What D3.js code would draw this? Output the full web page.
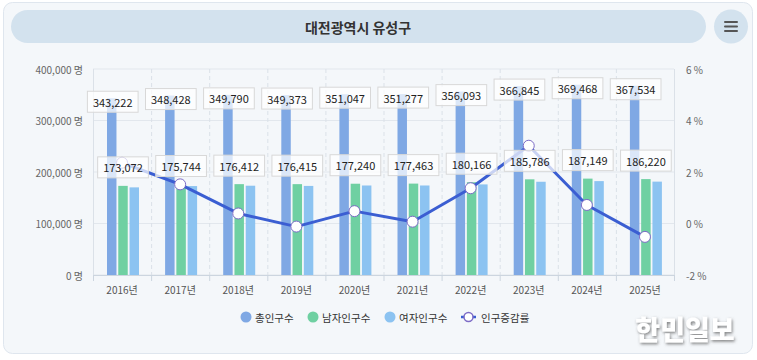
<!DOCTYPE html>
<html><head><meta charset="utf-8">
<script src="https://cdn.jsdelivr.net/npm/d3@7"></script>
<style>
html,body{margin:0;padding:0;background:#fff;}
svg{display:block;font-family:"Noto Sans CJK KR","Noto Sans",sans-serif;}
</style></head>
<body>
<svg id="chart" width="757" height="360"></svg>
<script>
const title = "대전광역시 유성구";
const years = ["2016년","2017년","2018년","2019년","2020년","2021년","2022년","2023년","2024년","2025년"];
const total = [343222, 348428, 349790, 349373, 351047, 351277, 356093, 366845, 369468, 367534];
const male = [173072, 175744, 176412, 176415, 177240, 177463, 180166, 185786, 187149, 186220];
const female = [170150, 172684, 173378, 172958, 173807, 173814, 175927, 181059, 182319, 181314];
const rate = [2.36, 1.52, 0.39, -0.12, 0.48, 0.07, 1.37, 3.02, 0.72, -0.52];
const leftTicks = [0, 100000, 200000, 300000, 400000];
const rightTicks = [-2, 0, 2, 4, 6];
const seriesNames = ["총인구수","남자인구수","여자인구수","인구증감률"];
const colors = {total:"#7fa8e4", male:"#6fd0a2", female:"#8cc3f1", line:"#3b5ed2", marker:"#7d6cc6"};

const svg = d3.select("#chart");
const fmt = d3.format(",");

// defs
const defs = svg.append("defs");
const f = defs.append("filter").attr("id","wm").attr("x","-20%").attr("y","-30%").attr("width","140%").attr("height","160%");
f.append("feDropShadow").attr("dx",1).attr("dy",1.5).attr("stdDeviation",1.6).attr("flood-color","#555").attr("flood-opacity",0.75);

// card
svg.append("rect").attr("x",3.5).attr("y",2.5).attr("width",749).attr("height",351).attr("rx",9)
  .attr("fill","#f4f7fa").attr("stroke","#dfe6ee");
// title pill
svg.append("rect").attr("x",11).attr("y",10).attr("width",695).attr("height",33).attr("rx",16.5).attr("fill","#d3e2ee");
svg.append("text").attr("x",358).attr("y",27).attr("text-anchor","middle").attr("dominant-baseline","central")
  .attr("font-size",14).attr("font-weight",700).attr("fill","#333").text(title);
// menu button
svg.append("ellipse").attr("cx",731).attr("cy",26.5).attr("rx",17).attr("ry",17).attr("fill","#d3e2ee");
[-4.5,0,4.5].forEach(d=>svg.append("line").attr("x1",725).attr("x2",737).attr("y1",26.5+d).attr("y2",26.5+d)
  .attr("stroke","#555").attr("stroke-width",2).attr("stroke-linecap","round"));

// scales
const pL = 93, pR = 674, pT = 69, pB = 275;
const x = d3.scaleBand().domain(years).range([pL,pR]).padding(0);
const step = x.bandwidth();
const x1 = d3.scaleBand().domain(["total","male","female"]).range([14,46]).paddingInner(0.16);
const yL = d3.scaleLinear().domain([0,400000]).range([pB,pT]);
const yR = d3.scaleLinear().domain([-2,6]).range([pB,pT]);

// grid
const g = svg.append("g");
g.selectAll(".hg").data(leftTicks).join("line")
  .attr("x1",pL).attr("x2",pR).attr("y1",d=>yL(d)).attr("y2",d=>yL(d))
  .attr("stroke","#e2e7ed").attr("stroke-width",1);
const bounds = years.map(d=>x(d)).concat([pR]);
g.selectAll(".vg").data(bounds).join("line")
  .attr("x1",d=>d+0.5).attr("x2",d=>d+0.5).attr("y1",pT).attr("y2",pB)
  .attr("stroke","#dbe1e8").attr("stroke-dasharray",(d,i)=> (i===0||i===bounds.length-1)?null:"4,3");
g.append("line").attr("x1",pL).attr("x2",pR).attr("y1",pB+0.5).attr("y2",pB+0.5).attr("stroke","#ccd5df");
g.selectAll(".xt").data(bounds).join("line")
  .attr("x1",d=>d+0.5).attr("x2",d=>d+0.5).attr("y1",pB).attr("y2",pB+6).attr("stroke","#ccd5df");

// axis labels
svg.append("g").selectAll("text").data(leftTicks).join("text")
  .attr("x",83).attr("y",d=>yL(d)).attr("dominant-baseline","central").attr("text-anchor","end")
  .attr("font-size",10).attr("fill","#666").text(d=>fmt(d)+" 명");
svg.append("g").selectAll("text").data(rightTicks).join("text")
  .attr("x",686).attr("y",d=>yR(d)).attr("dominant-baseline","central").attr("text-anchor","start")
  .attr("font-size",10).attr("fill","#666").text(d=>d+" %");
svg.append("g").selectAll("text").data(years).join("text")
  .attr("x",d=>x(d)+step/2).attr("y",289).attr("dominant-baseline","central").attr("text-anchor","middle")
  .attr("font-size",10).attr("fill","#555").text(d=>d);

// bars
const rows = years.map((y,i)=>({year:y,total:total[i],male:male[i],female:female[i],rate:rate[i]}));
const bg = svg.append("g");
["total","male","female"].forEach(k=>{
  bg.selectAll(".b"+k).data(rows).join("rect")
    .attr("x",d=>x(d.year)+x1(k)).attr("width",x1.bandwidth())
    .attr("y",d=>yL(d[k])).attr("height",d=>pB-yL(d[k]))
    .attr("fill",colors[k]);
});

// line
const cx = d=>x(d.year)+step/2;
svg.append("path").datum(rows)
  .attr("d",d3.line().x(cx).y(d=>yR(d.rate)))
  .attr("fill","none").attr("stroke",colors.line).attr("stroke-width",3).attr("stroke-linejoin","round");
svg.append("g").selectAll("circle").data(rows).join("circle")
  .attr("cx",cx).attr("cy",d=>yR(d.rate)).attr("r",5.5)
  .attr("fill","#fff").attr("stroke",colors.marker).attr("stroke-width",1);

// data labels
function label(cxv, cyv, txt){
  const gg = svg.append("g");
  const t = gg.append("text").attr("x",cxv).attr("y",cyv).attr("text-anchor","middle").attr("dominant-baseline","central")
    .attr("font-size",11).attr("fill","#222").text(txt);
  const w = t.node().getComputedTextLength();
  gg.insert("rect","text").attr("x",cxv-w/2-5.5).attr("y",cyv-10.5).attr("width",w+11).attr("height",21)
    .attr("fill","#fff").attr("fill-opacity",0.72).attr("stroke","#d8d8d8").attr("stroke-width",1);
}
rows.forEach(d=>{
  label(x(d.year)+x1("total")+x1.bandwidth()/2+1, yL(d.total)+3.5, fmt(d.total));
});
rows.forEach(d=>{
  label(x(d.year)+x1("male")+x1.bandwidth()/2, yL(d.male)-18.5, fmt(d.male));
});

// legend
const lg = svg.append("g");
const legendX = [246, 313, 390];
[["total",0],["male",1],["female",2]].forEach(([k,i])=>{
  lg.append("circle").attr("cx",legendX[i]).attr("cy",317).attr("r",5.5).attr("fill",colors[k]);
  lg.append("text").attr("x",legendX[i]+9).attr("y",317).attr("dominant-baseline","central")
    .attr("font-size",10.5).attr("fill","#333").text(seriesNames[i]);
});
lg.append("line").attr("x1",461).attr("x2",476).attr("y1",317).attr("y2",317).attr("stroke",colors.line).attr("stroke-width",2.5);
lg.append("circle").attr("cx",468.5).attr("cy",317).attr("r",4.5).attr("fill","#fff").attr("stroke",colors.marker).attr("stroke-width",1.5);
lg.append("text").attr("x",481).attr("y",317).attr("dominant-baseline","central")
  .attr("font-size",10.5).attr("fill","#333").text(seriesNames[3]);

// watermark
svg.append("text").attr("x",685).attr("y",328).attr("text-anchor","middle").attr("dominant-baseline","central")
  .attr("font-size",27).attr("font-weight",900).attr("fill","#fff").attr("filter","url(#wm)").text("한민일보");
</script>
</body></html>
